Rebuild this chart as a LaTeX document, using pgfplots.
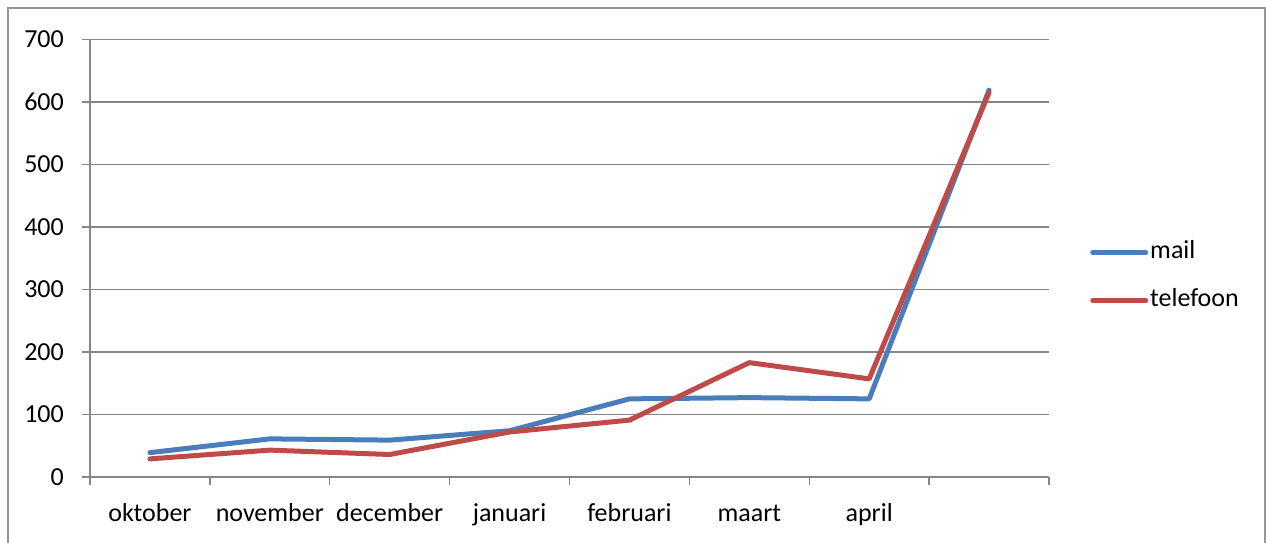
\documentclass[border=0pt]{standalone}
\usepackage{pgfplots}
\pgfplotsset{compat=1.18}
\usepackage{fontspec}
\setmainfont{Carlito}
\definecolor{mailblue}{RGB}{74,126,187}
\definecolor{telred}{RGB}{190,75,72}
\definecolor{gridgray}{RGB}{134,134,134}
\definecolor{bordergray}{RGB}{150,150,150}
\begin{document}
\fontsize{26bp}{31bp}\selectfont
\begin{tikzpicture}
\useasboundingbox (-90bp,-66bp) rectangle (1176bp,477bp);
\draw[bordergray, line width=1.2bp] (-82bp,-90bp) -- (-82bp,469bp) -- (1175bp,469bp) -- (1175bp,-90bp);
\begin{axis}[
  at={(0,0)}, anchor=south west,
  scale only axis,
  width=959bp, height=437.5bp,
  xmin=0.5, xmax=8.5, ymin=0, ymax=700,
  axis x line*=bottom, axis y line*=left,
  axis line style={gridgray, line width=1.4bp},
  tick align=outside,
  major tick length=8bp,
  tick style={gridgray, line width=1.4bp},
  xtick={0.5,1.5,...,8.5}, xticklabels={},
  extra x ticks={1,2,3,4,5,6,7},
  extra x tick labels={oktober,november,december,januari,februari,maart,april},
  extra x tick style={major tick length=0pt, grid=none,
    xticklabel style={anchor=base, yshift=-44bp, inner sep=0pt}},
  ytick={0,100,...,700},
  ymajorgrids,
  grid style={gridgray, line width=1.4bp},
  yticklabel style={anchor=east, inner sep=0pt, xshift=-18bp},
  /pgf/number format/assume math mode=true,
  ticklabel style={font=\fontsize{26bp}{31bp}\selectfont},
  legend style={draw=none, fill=none, at={(1.0428,0.4585)}, anchor=west,
    font=\fontsize{26bp}{31bp}\selectfont, inner sep=0pt, row sep=26bp,
    nodes={inner xsep=2bp, inner ysep=0pt, text height=17bp, text depth=5bp}},
  legend cell align=left,
  legend image code/.code={\draw[#1, line width=5bp, line cap=round] (0bp,0bp) -- (53bp,0bp);},
  every axis plot/.append style={line width=5bp, line join=round, line cap=round},
]
\addplot[mailblue] coordinates {(1,39) (2,61) (3,59) (4,74) (5,125) (6,127) (7,125) (8,619)};
\addlegendentry{mail}
\addplot[telred] coordinates {(1,29) (2,43) (3,36) (4,72) (5,91) (6,183) (7,157) (8,615)};
\addlegendentry{telefoon}
\end{axis}
\end{tikzpicture}
\end{document}
